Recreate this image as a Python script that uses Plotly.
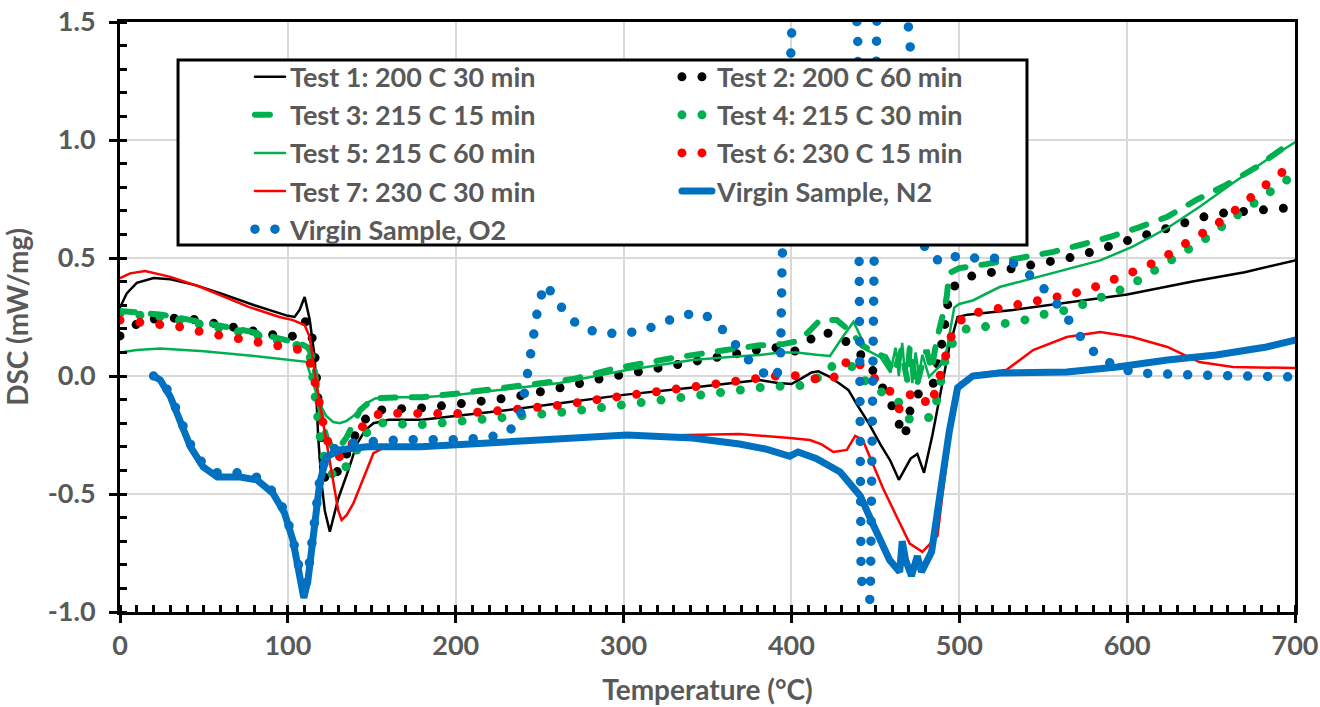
import plotly.graph_objects as go

# ---------------- data ----------------
t1_x = [0, 4, 10, 20, 30, 45, 60, 80, 100, 104, 107, 110, 113, 116, 118, 120, 122, 125, 130, 136, 141, 146, 151, 160, 180,
        200, 230, 262, 300, 340, 381, 392, 400, 406, 412, 416, 422, 429, 434, 439, 446, 453, 459, 464, 467, 471, 475, 479,
        484, 489, 494, 499, 505, 532, 564, 600, 639, 670, 700]
t1_y = [0.29, 0.35, 0.395, 0.415, 0.41, 0.385, 0.35, 0.30, 0.255, 0.25, 0.28, 0.335, 0.24, 0.08, -0.25, -0.45, -0.57, -0.66,
        -0.52, -0.40, -0.29, -0.23, -0.20, -0.185, -0.185, -0.17, -0.145, -0.115, -0.08, -0.05, -0.017, -0.03, -0.034, -0.01,
        0.015, 0.02, 0.0, -0.034, -0.06, -0.12, -0.2, -0.29, -0.36, -0.44, -0.40, -0.35, -0.33, -0.41, -0.25, -0.06, 0.12,
        0.25, 0.26, 0.28, 0.31, 0.345, 0.40, 0.44, 0.49]

t2_x = [0, 5, 12, 25, 40, 51, 62, 75, 86, 98, 104, 108, 111, 114, 116, 118, 120, 122, 125, 132, 142, 150, 162, 174, 200,
        234, 269, 282, 305, 329, 353, 377, 389, 401, 409, 418, 429, 439, 447, 453, 459, 463, 467.5, 472, 478, 484, 487,
        490, 493, 497, 505, 517, 529, 541, 553, 565, 576, 588, 600, 611, 622, 634, 646, 657, 670, 681, 693, 700]
t2_y = [0.17, 0.185, 0.235, 0.245, 0.245, 0.23, 0.215, 0.195, 0.18, 0.165, 0.17, 0.21, 0.235, 0.18, 0.10, -0.10, -0.30,
        -0.43, -0.45, -0.38, -0.22, -0.15, -0.137, -0.14, -0.12, -0.09, -0.04, -0.017, 0.013, 0.047, 0.08, 0.11, 0.123,
        0.10, 0.144, 0.19, 0.165, 0.11, 0.042, -0.03, -0.11, -0.186, -0.258, -0.10, -0.06, -0.047, 0.038, 0.15, 0.30,
        0.38, 0.42, 0.435, 0.455, 0.466, 0.483, 0.50, 0.52, 0.547, 0.57, 0.60, 0.627, 0.65, 0.675, 0.69, 0.70, 0.70,
        0.71, 0.715]

t3_x = [0, 10, 25, 40, 60, 80, 100, 107, 112, 115, 117, 120, 123, 127, 131, 135, 143, 151, 167, 180, 200, 244, 270, 296,
        329, 361, 381, 395, 405, 412, 417, 427, 435, 442, 450, 456, 461, 465.5, 469, 470.5, 474.5, 477.5, 480.5, 483.5,
        486.5, 489.5, 492.5, 494, 497, 500, 516, 538, 556, 572, 590, 607, 624, 641, 659, 677, 693, 700]
t3_y = [0.275, 0.27, 0.26, 0.24, 0.215, 0.185, 0.15, 0.14, 0.12, 0.08, -0.03, -0.17, -0.26, -0.31, -0.30, -0.26, -0.145,
        -0.095, -0.09, -0.09, -0.075, -0.04, -0.013, 0.034, 0.076, 0.11, 0.13, 0.135, 0.15, 0.2, 0.237, 0.237, 0.19,
        0.13, 0.097, 0.08, 0.013, 0.11, -0.017, 0.12, -0.047, 0.04, 0.11, 0.025, 0.153, 0.237, 0.335, 0.436, 0.45, 0.457,
        0.474, 0.504, 0.526, 0.555, 0.59, 0.63, 0.675, 0.745, 0.81, 0.885, 0.966, 0.99]

t4_x = [0, 10, 25, 40, 60, 80, 100, 110, 113, 115, 118, 120, 124, 129, 137, 143, 149, 155, 161, 173, 200, 230, 269, 293,
        317, 341, 364, 377, 389, 401, 413, 421, 430, 437, 445, 454.5, 464.5, 470.5, 476.5, 483.5, 487, 490, 492.5, 497,
        505, 517, 529, 541, 553, 565, 576, 587, 599, 609, 619, 630, 639, 650, 659, 669, 679, 689, 700]
t4_y = [0.265, 0.26, 0.25, 0.23, 0.205, 0.175, 0.14, 0.12, 0.10, -0.02, -0.19, -0.30, -0.40, -0.43, -0.365, -0.29, -0.215,
        -0.20, -0.195, -0.21, -0.19, -0.175, -0.15, -0.127, -0.105, -0.085, -0.059, -0.05, -0.042, -0.046, -0.03, 0.04,
        0.045, 0.04, -0.03, -0.072, -0.114, -0.186, -0.178, -0.174, -0.093, -0.008, 0.10, 0.15, 0.205, 0.21, 0.225, 0.24,
        0.267, 0.28, 0.31, 0.343, 0.373, 0.415, 0.457, 0.504, 0.547, 0.597, 0.648, 0.695, 0.75, 0.80, 0.855]

t5_x = [0, 10, 24, 50, 80, 105, 111, 115, 119, 123, 127, 131, 135, 139, 143, 147, 152, 160, 180, 200, 230, 262, 302, 341,
        363, 381, 393, 403, 415, 423, 430, 437, 445, 453, 459, 462, 464, 466, 468, 470, 472, 474, 476, 478, 482, 488,
        492.5, 497, 500, 508, 524, 544, 564, 584, 603, 624, 643, 663, 683, 700]
t5_y = [0.10, 0.11, 0.117, 0.105, 0.085, 0.065, 0.06, -0.03, -0.12, -0.17, -0.195, -0.20, -0.19, -0.17, -0.14, -0.115,
        -0.095, -0.09, -0.09, -0.08, -0.055, -0.03, 0.025, 0.068, 0.08, 0.089, 0.10, 0.10, 0.09, 0.085, 0.16, 0.23, 0.11,
        0.08, 0.015, 0.12, 0.0, 0.14, -0.02, 0.13, -0.03, 0.10, 0.0, 0.09, -0.004, 0.04, 0.11, 0.29, 0.305, 0.32, 0.377,
        0.415, 0.45, 0.49, 0.547, 0.627, 0.716, 0.818, 0.915, 0.99]

t6_x = [0, 13, 25, 37, 49, 61, 73, 85, 96.5, 108, 114, 117, 119, 121, 124, 128, 132, 139, 145, 155, 167, 179, 200, 230,
        263, 287, 311, 335, 358.5, 371, 383, 395, 407, 419, 429, 434, 442.5, 451.5, 460, 464.5, 470.5, 475, 478, 482.5,
        486.5, 490, 493, 496.5, 504, 516, 528, 540, 552, 564, 576, 587, 598.5, 609, 620.5, 630, 640, 651, 660.5, 670,
        679, 689, 700]
t6_y = [0.237, 0.225, 0.216, 0.207, 0.186, 0.17, 0.153, 0.14, 0.127, 0.11, 0.047, -0.038, -0.123, -0.2, -0.284, -0.33,
        -0.347, -0.28, -0.208, -0.157, -0.157, -0.165, -0.16, -0.145, -0.123, -0.097, -0.076, -0.055, -0.034, -0.017,
        -0.004, 0.004, 0.0, -0.02, 0.004, 0.08, 0.04, -0.025, -0.072, -0.144, -0.08, -0.068, -0.093, -0.13, -0.05, 0.034,
        0.12, 0.20, 0.26, 0.275, 0.29, 0.31, 0.32, 0.343, 0.364, 0.394, 0.424, 0.457, 0.496, 0.542, 0.585, 0.63, 0.68,
        0.733, 0.79, 0.843, 0.905]

t7_x = [0, 6, 15, 30, 48, 77, 95, 103, 110, 113, 117, 121, 124, 127, 130, 132, 135, 139, 145, 151, 157, 179, 200, 250,
        300, 340, 369, 399, 411, 418, 425, 433, 438, 442.5, 448.5, 454.5, 462.5, 470.5, 478, 487, 490, 494, 497, 500, 508,
        528, 544, 564, 584, 603, 624, 643, 663, 700]
t7_y = [0.415, 0.435, 0.445, 0.42, 0.377, 0.292, 0.25, 0.237, 0.216, 0.165, -0.03, -0.2, -0.33, -0.453, -0.57, -0.61,
        -0.59, -0.54, -0.43, -0.327, -0.305, -0.30, -0.29, -0.27, -0.255, -0.25, -0.246, -0.263, -0.271, -0.29, -0.322,
        -0.313, -0.254, -0.271, -0.373, -0.475, -0.593, -0.71, -0.745, -0.678, -0.5, -0.271, -0.12, -0.034, 0.008, 0.025,
        0.11, 0.165, 0.186, 0.165, 0.123, 0.059, 0.038, 0.034]

n2_x = [20, 24, 30, 36, 42, 49.5, 58, 71.5, 81.5, 91, 98, 103, 107, 109.5, 112, 115, 119, 123, 131, 147, 179, 214, 262,
        302, 341, 369, 385, 399, 404, 408, 415, 429, 441, 448.5, 458.5, 464.5, 466, 468, 471.5, 475, 477.5, 483.5, 488,
        494, 499, 504, 508, 524, 564, 594, 624, 653, 683, 700]
n2_y = [0.0, -0.017, -0.088, -0.2, -0.3, -0.385, -0.428, -0.428, -0.44, -0.496, -0.58, -0.695, -0.85, -0.94, -0.864,
        -0.665, -0.453, -0.343, -0.313, -0.30, -0.30, -0.286, -0.263, -0.25, -0.263, -0.288, -0.31, -0.34, -0.322, -0.33,
        -0.35, -0.407, -0.508, -0.627, -0.78, -0.83, -0.70, -0.78, -0.847, -0.763, -0.83, -0.745, -0.525, -0.237, -0.05,
        -0.017, 0.0, 0.013, 0.017, 0.038, 0.068, 0.089, 0.123, 0.152]

o2_x = [20, 24, 30, 36, 42, 50, 58, 72, 82, 91, 98, 103, 107, 110, 112, 115, 119, 123, 132, 145, 169, 200, 217, 229,
        237.5, 240, 242, 243.5, 245, 247, 249.5, 253.5, 260, 267, 276, 288, 300, 311, 323, 335, 347, 356, 364, 372, 380,
        388, 391, 393.5, 394.5, 399.5, 401, 438, 439.5, 441.5, 444, 447, 448, 449.5, 451, 468, 470.5, 479.5, 489.5, 500,
        512, 523.5, 535, 544, 553, 560.5, 567, 574, 582.5, 593, 604.5, 616, 640, 700]
o2_y = [0.0, -0.01, -0.08, -0.19, -0.29, -0.38, -0.41, -0.41, -0.43, -0.49, -0.57, -0.69, -0.85, -0.92, -0.84, -0.64,
        -0.44, -0.33, -0.29, -0.28, -0.27, -0.27, -0.263, -0.246, -0.2, -0.115, -0.03, 0.055, 0.14, 0.228, 0.313, 0.39,
        0.326, 0.25, 0.2, 0.18, 0.182, 0.19, 0.225, 0.258, 0.267, 0.22, 0.157, 0.085, 0.03, -0.01, -0.008, 0.07, 0.5,
        1.36, 1.6, 1.6, 1.45, -0.86, -0.92, -0.95, -0.3, 1.45, 1.6, 1.6, 1.42, 0.53, 0.48, 0.513, 0.496, 0.5, 0.47,
        0.415, 0.352, 0.284, 0.212, 0.148, 0.085, 0.042, 0.013, 0.008, 0.004, -0.004]

names = ["Test 1: 200 C 30 min", "Test 2: 200 C 60 min", "Test 3: 215 C 15 min", "Test 4: 215 C 30 min",
         "Test 5: 215 C 60 min", "Test 6: 230 C 15 min", "Test 7: 230 C 30 min", "Virgin Sample, N2",
         "Virgin Sample, O2"]

x_ticks = [0, 100, 200, 300, 400, 500, 600, 700]
y_ticks = [-1.0, -0.5, 0.0, 0.5, 1.0, 1.5]

# ---------------- styles ----------------
BLACK, GREEN, RED, BLUE = "#000000", "#00B050", "#FF0000", "#0070C0"
DOTS = "0px,20px"
series = [
    (t1_x, t1_y, dict(color=BLACK, width=2.5)),
    (t2_x, t2_y, dict(color=BLACK, width=9, dash=DOTS)),
    (t3_x, t3_y, dict(color=GREEN, width=6, dash="15px,16px")),
    (t4_x, t4_y, dict(color=GREEN, width=9, dash=DOTS)),
    (t5_x, t5_y, dict(color=GREEN, width=2.5)),
    (t6_x, t6_y, dict(color=RED, width=9, dash=DOTS)),
    (t7_x, t7_y, dict(color=RED, width=2.5)),
    (n2_x, n2_y, dict(color=BLUE, width=7)),
    (o2_x, o2_y, dict(color=BLUE, width=9.5, dash=DOTS)),
]

fig = go.Figure()
for (xs, ys, ln), nm in zip(series, names):
    fig.add_trace(go.Scatter(x=xs, y=ys, mode="lines", name=nm, line=ln, hoverinfo="skip"))

GREY = "#595959"
FONT = "Lato"
tickfont = dict(family=FONT, size=27, color=GREY, weight="bold")
titlefont = dict(family=FONT, size=28, color=GREY, weight="bold")

fig.update_layout(
    width=1320, height=707,
    margin=dict(l=120, r=25, t=22, b=95, autoexpand=False),
    paper_bgcolor="white", plot_bgcolor="white",
    showlegend=True,
    legend=dict(
        orientation="h", x=0.1106, y=0.948, xanchor="left", yanchor="top",
        entrywidth=382, entrywidthmode="pixels",
        bgcolor="rgba(0,0,0,0)", borderwidth=0,
        font=dict(family=FONT, size=27, color=GREY, weight="bold"),
        traceorder="normal",
    ),
    shapes=[dict(type="rect", xref="paper", yref="paper", x0=0.0494, x1=0.7719, y0=0.622, y1=0.9356,
                 fillcolor="white", line=dict(color="black", width=3), layer="above")],
)

fig.update_xaxes(
    range=[0, 700], tickvals=x_ticks, ticktext=[str(v) for v in x_ticks],
    showline=True, linecolor="black", linewidth=3, mirror=True, automargin=False,
    ticks="outside", ticklen=8, tickwidth=3, tickcolor="black",
    minor=dict(ticks="inside", ticklen=7, tickwidth=2.5, tickcolor="black", dtick=10, showgrid=False),
    showgrid=True, gridcolor="#D9D9D9", gridwidth=1.5, zeroline=False,
    tickfont=tickfont, ticklabelstandoff=0,
    title=dict(text="Temperature (°C)", font=titlefont, standoff=20),
)
fig.update_yaxes(
    range=[-1.0, 1.5], tickvals=y_ticks, ticktext=[f"{v:.1f}" for v in y_ticks],
    showline=True, linecolor="black", linewidth=3, mirror=True, automargin=False,
    ticks="outside", ticklen=8, tickwidth=3, tickcolor="black",
    minor=dict(ticks="inside", ticklen=7, tickwidth=2.5, tickcolor="black", dtick=0.1, showgrid=False),
    showgrid=True, gridcolor="#D9D9D9", gridwidth=1.5, zeroline=False,
    tickfont=tickfont, ticklabelstandoff=8,
    title=dict(text="DSC (mW/mg)", font=titlefont, standoff=12),
)

css = ("var s=document.createElement('style');"
       "s.textContent='path.js-line, .legendlines path{stroke-linecap:round !important;}';"
       "document.head.appendChild(s);")
fig.write_html("out.html", post_script=css)
